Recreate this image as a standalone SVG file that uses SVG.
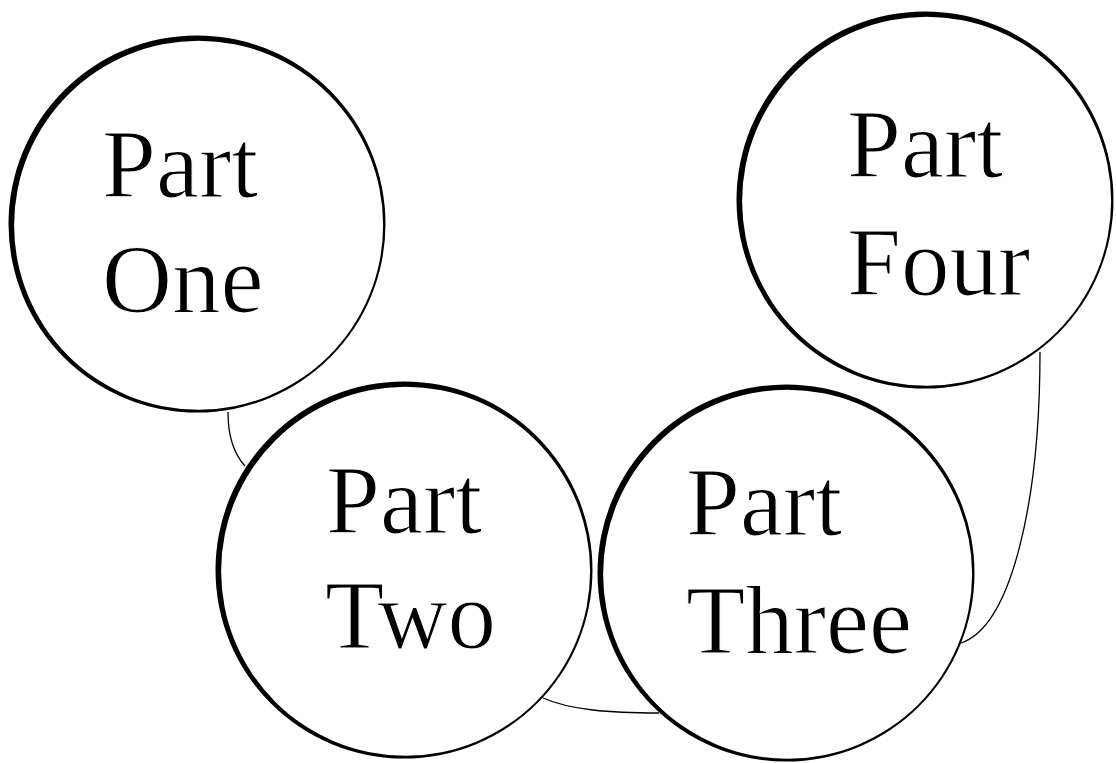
<svg xmlns="http://www.w3.org/2000/svg" width="1116" height="763" viewBox="0 0 1116 763">
<style>
.lbl{font-family:"Liberation Serif","Times New Roman",serif;font-size:97px;fill:#000;stroke:#fff;stroke-width:1.2}
.conn{fill:none;stroke:#000;stroke-width:1.3}
</style>
<defs>
<g id="ring">
<circle r="186" fill="#fff"/>
<path fill="#000" fill-rule="evenodd" d="M-188.5,0 a188.5,188.5 0 1,0 377,0 a188.5,188.5 0 1,0 -377,0 Z M-182.9,1.2 a184.5,184.5 0 1,0 369,0 a184.5,184.5 0 1,0 -369,0 Z"/>
</g>
</defs>
<rect width="1116" height="763" fill="#fff"/>
<g id="connectors">
<path class="conn" d="M228,412 C228,436 233,453 245,466"/>
<path class="conn" d="M543,698 C570,710 610,713 659,713"/>
<path class="conn" d="M1040,352 C1040,500 1012,626 961,643"/>
</g>
<g id="part-one">
<use href="#ring" x="197" y="224"/>
<text class="lbl" x="102" y="197">Part</text>
<text class="lbl" x="102" y="312">One</text>
</g>
<g id="part-two">
<use href="#ring" x="404" y="570"/>
<text class="lbl" x="326" y="533">Part</text>
<text class="lbl" x="325" y="648">Two</text>
</g>
<g id="part-three">
<use href="#ring" x="786" y="573"/>
<text class="lbl" x="686" y="535">Part</text>
<text class="lbl" x="686" y="653">Three</text>
</g>
<g id="part-four">
<use href="#ring" x="925" y="200"/>
<text class="lbl" x="847" y="177">Part</text>
<text class="lbl" x="847" y="295">Four</text>
</g>
</svg>
